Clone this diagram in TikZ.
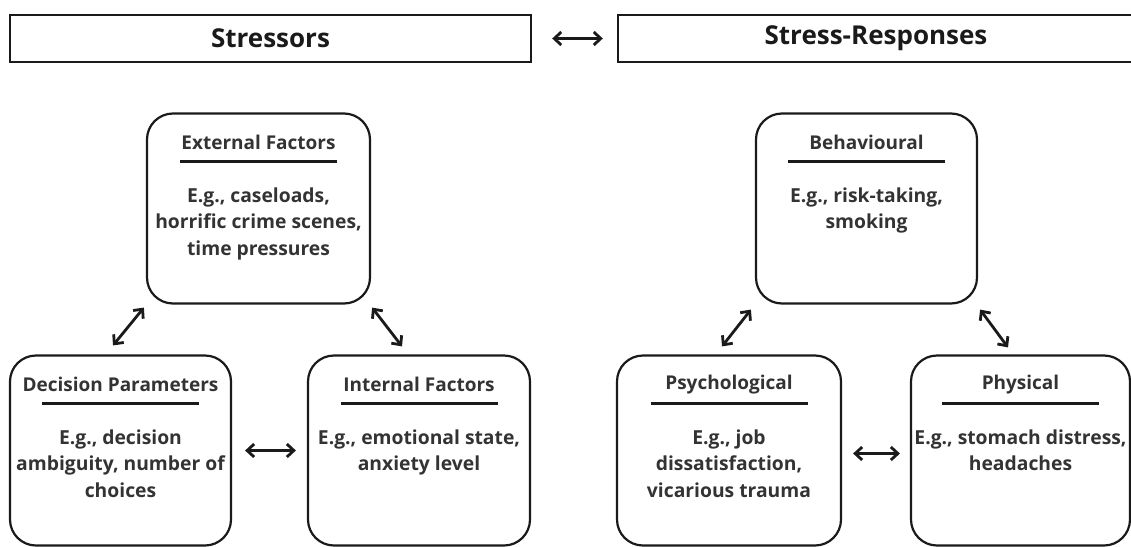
\documentclass[tikz,border=0pt]{standalone}
\usepackage{fontspec}
\setmainfont{Open Sans}
\usetikzlibrary{arrows.meta,calc}
\definecolor{ink}{HTML}{1A1A1A}
\definecolor{txt}{HTML}{333333}
\begin{document}
\begin{tikzpicture}[x=1pt,y=-1pt,
  header/.style={draw=ink,line width=2.4pt,minimum height=47pt,inner sep=0pt,
    font=\fontsize{26}{30}\selectfont\bfseries,text=ink},
  card/.style={draw=ink,line width=2.2pt,rounded corners=26pt,minimum height=190pt,inner sep=0pt},
  cardtitle/.style={font=\fontsize{19}{22}\selectfont\bfseries,text=txt,inner sep=0pt},
  cardbody/.style={font=\fontsize{19.3}{26.5}\selectfont\bfseries,text=txt,align=center,inner sep=0pt,anchor=north},
  rule/.style={line width=2.6pt,draw=ink},
  link/.style={line width=2.8pt,draw=ink,{Straight Barb[length=7pt,width=13pt]}-{Straight Barb[length=7pt,width=13pt]}}
]
\useasboundingbox (0,0) rectangle (1131,546);

% header bars
\node[header,minimum width=521pt] (stressors) at (270.5,38.5) {Stressors};
\node[header,minimum width=516pt] (responses) at (876,38.5) {Stress-Responses};
\draw[link,shorten <=20pt,shorten >=14pt] (stressors.east) -- (responses.west);

% a card with a title, a rule under it and a body of examples
\newcommand{\card}[5]{%
  \node[card,minimum width=#3pt] (#1) at (#2) {};
  \node[cardtitle] (#1-title) at ($(#1.north)+(0,30)$) {#4};
  \coordinate (#1-ruleL) at ($(#1.north)+(-78.5,49)$);
  \coordinate (#1-ruleR) at ($(#1.north)+(78.5,49)$);
  \draw[rule] (#1-ruleL) -- (#1-ruleR);
  \node[cardbody] (#1-body) at ($(#1.north)+(0,75)$) {#5};
}

% stressors
\card{ext}{258.5,208.5}{223}{External Factors}{E.g., caseloads,\\horrific crime scenes,\\time pressures}
\card{dec}{120.5,450.5}{221}{Decision Parameters}{E.g., decision\\ambiguity, number of\\choices}
\card{int}{419,450.5}{222}{Internal Factors}{E.g., emotional state,\\anxiety level}

% stress responses
\card{beh}{866.5,208.5}{221}{Behavioural}{E.g., risk-taking,\\smoking}
\card{psy}{729,450.5}{224}{Psychological}{E.g., job\\dissatisfaction,\\vicarious trauma}
\card{phy}{1020.5,450.5}{219}{Physical}{E.g., stomach distress,\\headaches}

% relations between the stressors
\draw[link] ($(dec.north)+(-7.5,-9)$) -- ($(ext.south west)+(-2,3)$);
\draw[link] ($(ext.south east)+(1,3)$) -- ($(int.north)+(-17,-8)$);
\draw[link,shorten <=13pt,shorten >=11pt] (dec.east) -- (int.west);

% relations between the responses
\draw[link] ($(psy.north)+(-7,-8)$) -- ($(beh.south west)+(-4,5)$);
\draw[link] ($(beh.south east)+(2,5)$) -- ($(phy.north)+(-12.5,-7)$);
\draw[link,shorten <=11pt,shorten >=10pt] ($(psy.east)+(0,3)$) -- ($(phy.west)+(0,3)$);
\end{tikzpicture}
\end{document}
